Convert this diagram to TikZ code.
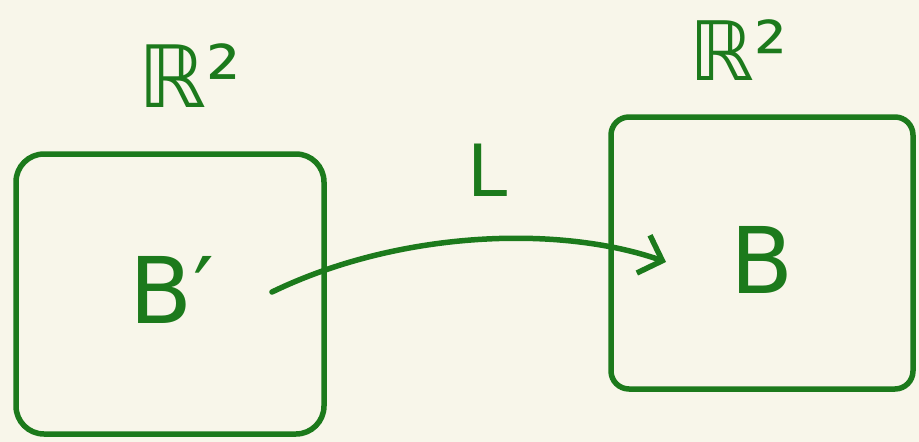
\documentclass[tikz,border=0pt]{standalone}
\usepackage{fontspec}
\setmainfont{DejaVu Sans}
\usetikzlibrary{arrows.meta}
\definecolor{bg}{HTML}{F8F6EA}
\definecolor{ink}{HTML}{1C7A1C}
\begin{document}
\begin{tikzpicture}[x=1pt,y=-1pt,
  handbox/.style={draw=ink, line width=5.5pt, rounded corners=28pt, inner sep=0pt},
  lbl/.style={text=ink, inner sep=0pt, font=\fontsize{#1}{#1}\selectfont},
  conn/.style={draw=ink, line width=5.5pt, line cap=round,
    -{Straight Barb[length=20pt,width=40pt,line width=5.5pt]}}]
\fill[bg] (0,0) rectangle (919,442);
\useasboundingbox (0,0) rectangle (919,442);
\node[handbox, minimum width=308pt, minimum height=280pt] (boxL) at (170,294) {};
\node[handbox, minimum width=302pt, minimum height=272pt, rounded corners=18pt] (boxR) at (762,253) {};
\node[lbl=86] (rL) at (190,76) {ℝ²};
\node[lbl=82] (rR) at (738,50) {ℝ²};
\node[lbl=72] (ell) at (488,170) {L};
\node[lbl=92] (bp) at (172,290) {B′};
\node[lbl=92] (b) at (762,260) {B};
\draw[conn] (272,292) .. controls (400,230) and (560,225) .. (666,262);
\end{tikzpicture}
\end{document}
